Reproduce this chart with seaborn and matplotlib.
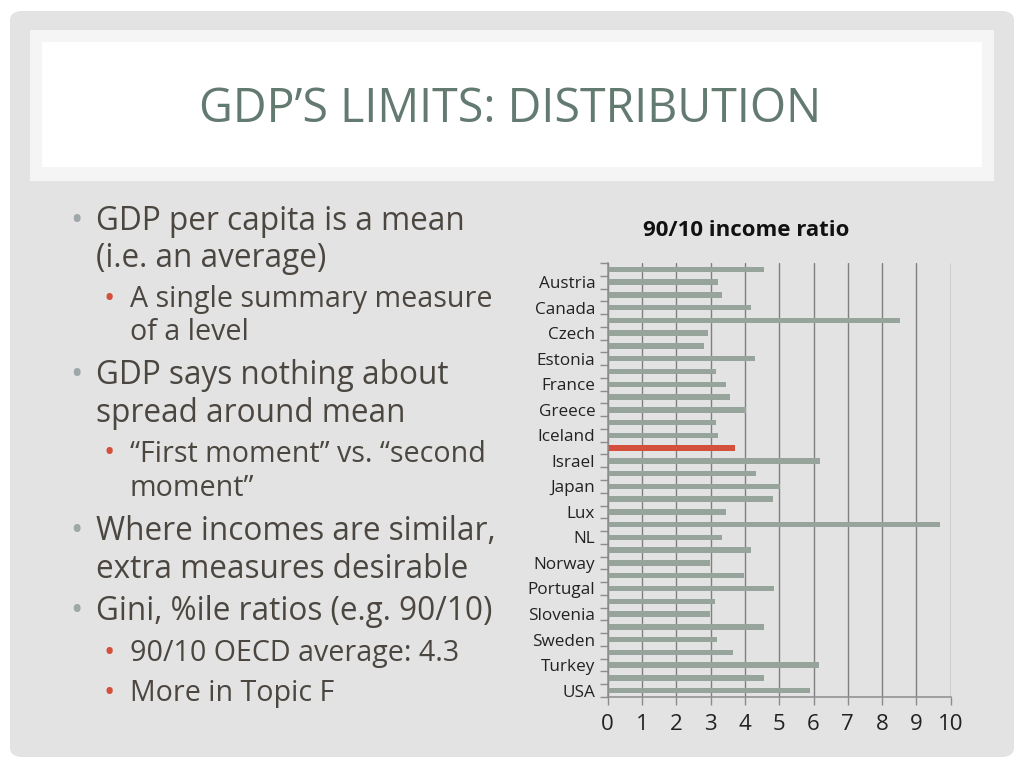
import matplotlib
matplotlib.use("Agg")
import matplotlib.pyplot as plt
from matplotlib.patches import FancyBboxPatch, Rectangle
import seaborn as sns
import pandas as pd

# 90/10 income ratio, OECD countries
countries = ["Australia", "Austria", "Belgium", "Canada", "Chile", "Czech", "Denmark",
             "Estonia", "Finland", "France", "Germany", "Greece", "Hungary", "Iceland",
             "Ireland", "Israel", "Italy", "Japan", "Korea", "Lux", "Mexico", "NL", "NZ",
             "Norway", "Poland", "Portugal", "Slovakia", "Slovenia", "Spain", "Sweden",
             "Switzerland", "Turkey", "UK", "USA"]
ratios = [4.56, 3.22, 3.33, 4.17, 8.51, 2.92, 2.80,
          4.28, 3.15, 3.46, 3.57, 4.03, 3.15, 3.22,
          3.72, 6.20, 4.32, 5.01, 4.83, 3.44, 9.69, 3.33, 4.17,
          2.99, 3.97, 4.85, 3.12, 2.99, 4.56, 3.18,
          3.65, 6.16, 4.56, 5.90]
highlight = "Ireland"

bullets = [
    (1, ["GDP per capita is a mean", "(i.e. an average)"]),
    (2, ["A single summary measure", "of a level"]),
    (1, ["GDP says nothing about", "spread around mean"]),
    (2, ["\u201cFirst moment\u201d vs. \u201csecond", "moment\u201d"]),
    (1, ["Where incomes are similar,", "extra measures desirable"]),
    (1, ["Gini, %ile ratios (e.g. 90/10)"]),
    (2, ["90/10 OECD average: 4.3"]),
    (2, ["More in Topic F"]),
]

sns.set_theme(style="white")
plt.rcParams["font.family"] = ["Open Sans", "DejaVu Sans"]

W, H = 1024, 768
fig = plt.figure(figsize=(W / 100, H / 100), dpi=100)
fig.patch.set_facecolor("white")

# slide background
fig.patches.append(FancyBboxPatch((10 / W, 11 / H), 1004 / W, 746 / H,
                                  boxstyle="round,pad=0,rounding_size=0.012",
                                  transform=fig.transFigure, facecolor="#e3e3e3",
                                  edgecolor="none", zorder=-3))
fig.patches.append(Rectangle((30 / W, 1 - 181 / H), 964 / W, 151 / H,
                             transform=fig.transFigure, facecolor="#f5f5f5",
                             edgecolor="none", zorder=-2))
fig.patches.append(Rectangle((42 / W, 1 - 167 / H), 940 / W, 125 / H,
                             transform=fig.transFigure, facecolor="white",
                             edgecolor="none", zorder=-1))

fig.text(510 / W, 1 - 109 / H, "GDP\u2019S LIMITS: DISTRIBUTION", ha="center", va="center",
         fontsize=33.5, color="#637a70")

# bullet text
line_y = [218, 256, 297, 330, 373, 410, 451, 486, 529, 566, 608, 651, 690]
i = 0
for level, lines in bullets:
    if level == 1:
        dot_x, txt_x, fs, dot_c = 76, 96, 22.7, "#9ea8a8"
    else:
        dot_x, txt_x, fs, dot_c = 109, 130, 20.6, "#d4503b"
    fig.text(dot_x / W, 1 - (line_y[i] + 3) / H, "\u2022", ha="center", va="center",
             fontsize=fs * 1.05, color=dot_c)
    for ln in lines:
        fig.text(txt_x / W, 1 - (line_y[i] + 3) / H, ln, ha="left", va="center",
                 fontsize=fs, color="#4b4640")
        i += 1

# chart
df = pd.DataFrame({"country": countries, "ratio": ratios})
colors = ["#d4503b" if c == highlight else "#96a49c" for c in countries]

ax = fig.add_axes([607.7 / W, 1 - 697 / H, 343 / W, 434 / H])
ax.set_facecolor("none")
sns.barplot(data=df, x="ratio", y="country", hue="country", palette=colors,
            orient="h", width=0.43, legend=False, ax=ax, saturation=1,
            linewidth=0)

ax.set_xlim(0, 10)
ax.set_ylim(len(countries) - 0.5, -0.5)
ax.set_xticks(range(0, 11))
ax.set_xticklabels([str(v) for v in range(0, 11)], fontsize=16, color="#222222")
ax.set_axisbelow(True)
ax.xaxis.grid(True, color="#7f7f7f", linewidth=1.0)

ax.set_yticks(range(1, len(countries), 2))
ax.set_yticklabels(countries[1::2], fontsize=12.3, color="#222222")
ax.set_yticks([k - 0.5 for k in range(len(countries) + 1)], minor=True)
ax.tick_params(axis="y", which="major", length=0, pad=9)
ax.tick_params(axis="y", which="minor", length=6, width=1, color="#8c8c8c", left=True)
ax.tick_params(axis="x", length=6, width=1, color="#8c8c8c", bottom=True, pad=6)

for s in ["top", "right"]:
    ax.spines[s].set_visible(False)
for s in ["left", "bottom"]:
    ax.spines[s].set_color("#8c8c8c")
    ax.spines[s].set_linewidth(1.1)

ax.set_xlabel("")
ax.set_ylabel("")
fig.text(746 / W, 1 - 231 / H, "90/10 income ratio", ha="center", va="center",
         fontsize=16, fontweight="bold", color="#111111")

fig.savefig("out.png", dpi=100)
